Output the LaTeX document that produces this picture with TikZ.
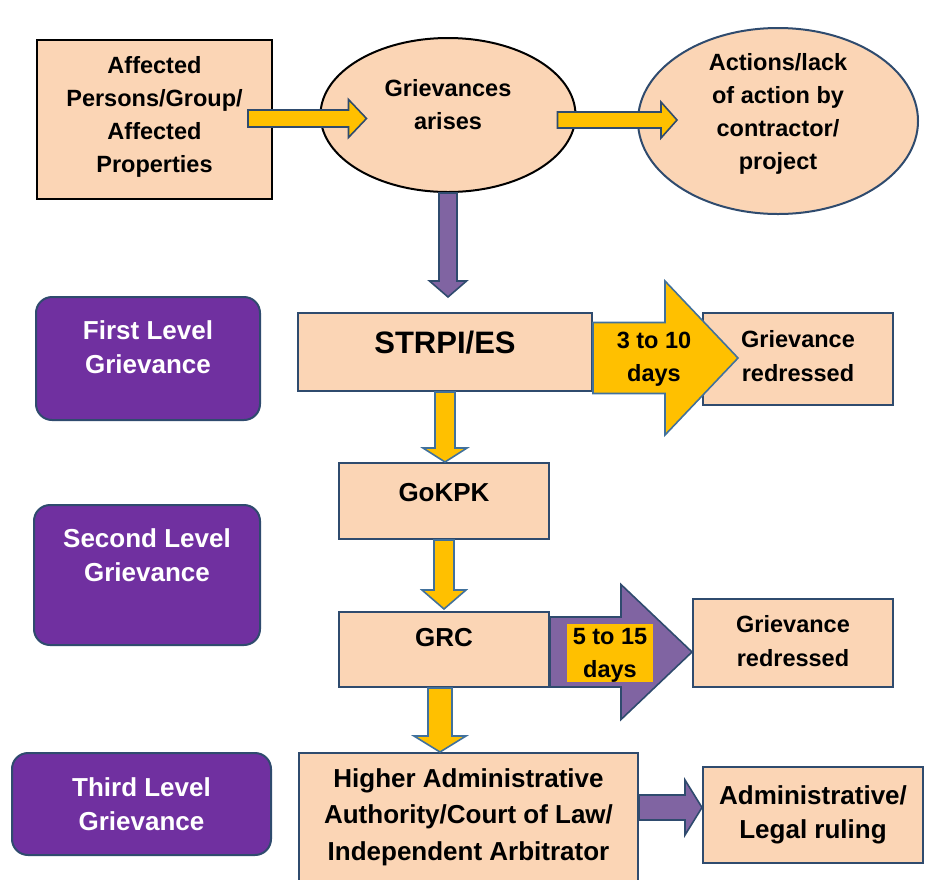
\documentclass[tikz,border=0pt]{standalone}
\usepackage{fontspec}
\setmainfont{Liberation Sans}
\usepackage{tikz}
\usetikzlibrary{calc, positioning, shapes.geometric}
\definecolor{peachfill}{HTML}{FBD5B5}
\definecolor{lvlpurple}{HTML}{7030A0}
\definecolor{arrowpurple}{HTML}{8064A2}
\definecolor{arrowyellow}{HTML}{FFC000}
\definecolor{edgeblue}{HTML}{2F4B6E}
\definecolor{steelblue}{HTML}{41719C}
\tikzset{
  txt/.style={align=center, inner sep=0pt, font=\bfseries\fontsize{#1}{34}\selectfont},
  txt/.default=23.5,
  small/.style={font=\bfseries\fontsize{23.5}{33}\selectfont},
  peach/.style={txt=26, draw=edgeblue, line width=2pt, fill=peachfill},
  oval/.style={txt, small, ellipse, draw=black, line width=2pt, fill=peachfill},
  level/.style={txt=26, draw=edgeblue, line width=2pt, fill=lvlpurple, text=white, rounded corners=16pt},
  yarrow/.style={fill=arrowyellow, draw=steelblue, line width=1.6pt},
  yarrowdark/.style={fill=arrowyellow, draw=edgeblue, line width=1.6pt},
  parrow/.style={fill=arrowpurple, draw=edgeblue, line width=1.6pt}
}
% block arrows: style, from, to, shaft half width, head half width, head length
\newcommand{\rarrow}[6]{\draw[#1] let \p1=#2, \p2=#3 in
  (\x1,\y1+#4) -- (\x2-#6,\y1+#4) -- (\x2-#6,\y1+#5) -- (\x2,\y1)
  -- (\x2-#6,\y1-#5) -- (\x2-#6,\y1-#4) -- (\x1,\y1-#4) -- cycle;}
\newcommand{\darrow}[6]{\draw[#1] let \p1=#2, \p2=#3 in
  (\x1-#4,\y1) -- (\x1-#4,\y2+#6) -- (\x1-#5,\y2+#6) -- (\x1,\y2)
  -- (\x1+#5,\y2+#6) -- (\x1+#4,\y2+#6) -- (\x1+#4,\y1) -- cycle;}
\begin{document}
\begin{tikzpicture}[x=1pt,y=-1pt]
  \useasboundingbox (0,0) rectangle (928,879);
  \node[peach, txt, small, draw=black, minimum width=235pt, minimum height=159pt, text depth=10pt] (aff) at (154.5,119.5) {Affected\\Persons/Group/\\Affected\\Properties};
  \node[oval, minimum width=255pt, minimum height=154pt, text depth=21pt] (grv) at (448,115) {Grievances\\arises};
  \node[oval, draw=edgeblue, inner ysep=-10pt, minimum width=280pt, minimum height=186pt, text depth=20pt] (act) at (778,121) {Actions/lack\\of action by\\contractor/\\project};
  \node[level, minimum width=224pt, minimum height=123pt, text depth=23pt] (first) at (148,358.5) {First Level\\Grievance};
  \node[level, minimum width=226pt, minimum height=140pt, text depth=39pt] (second) at (147,575) {Second Level\\Grievance};
  \node[level, minimum width=259pt, minimum height=102pt] (third) at (141.5,804) {Third Level\\Grievance};
  \node[peach, txt=31, minimum width=294pt, minimum height=78pt, text depth=19pt] (strpi) at (445,352) {STRPI/ES};
  \node[peach, txt, minimum width=190pt, minimum height=92pt, text depth=7pt] (red1) at (798,359) {Grievance\\redressed};
  \node[peach, minimum width=210pt, minimum height=76pt, text depth=18pt] (gokpk) at (444,501) {GoKPK};
  \node[peach, minimum width=210pt, minimum height=75pt, text depth=24pt] (grc) at (444,649.5) {GRC};
  \node[peach, txt, minimum width=200pt, minimum height=88pt, text depth=5pt] (red2) at (793,643) {Grievance\\redressed};
  \node[peach, font=\bfseries\fontsize{26}{36.5}\selectfont, minimum width=339pt, minimum height=128pt] (higher) at (468.5,817) {Higher Administrative\\Authority/Court of Law/\\Independent Arbitrator};
  \node[peach, minimum width=220pt, minimum height=96pt, text depth=5pt] (legal) at (813,815) {Administrative/\\Legal ruling};
  \rarrow{yarrowdark}{($(aff.east)+(-25,-1)$)}{($(grv.west)+(47,0)$)}{8.5pt}{19pt}{18pt}
  \rarrow{yarrowdark}{($(grv.east)+(-19,5)$)}{($(act.west)+(40,0)$)}{8pt}{18pt}{16pt}
  \darrow{parrow}{(grv.south)}{($(strpi.north)+(0,-15)$)}{9pt}{18.5pt}{16pt}
  \rarrow{yarrow}{($(strpi.east)+(0,6)$)}{($(red1.west)+(36,0)$)}{35.5pt}{77pt}{73pt}
  \node[txt=24, small, text depth=0pt] (days1) at ($(strpi.east)+(61,5)$) {3 to 10\\days};
  \darrow{yarrow}{(strpi.south)}{(gokpk.north)}{10pt}{22pt}{14pt}
  \darrow{yarrow}{(gokpk.south)}{($(grc.north)+(0,-2)$)}{10pt}{22pt}{19pt}
  \rarrow{parrow}{($(grc.east)+(0,2.5)$)}{(red2.west)}{35pt}{67.5pt}{71pt}
  \node[txt=24, small, text depth=0pt, fill=arrowyellow, minimum width=86pt, minimum height=58pt] (days2) at ($(grc.east)+(60,3.5)$) {5 to 15\\days};
  \darrow{yarrow}{($(grc.south)+(-4,0)$)}{(higher.north)}{12pt}{26pt}{16pt}
  \rarrow{parrow}{($(higher.east)+(0,-9.5)$)}{(legal.west)}{12.5pt}{27.5pt}{17pt}
\end{tikzpicture}
\end{document}
